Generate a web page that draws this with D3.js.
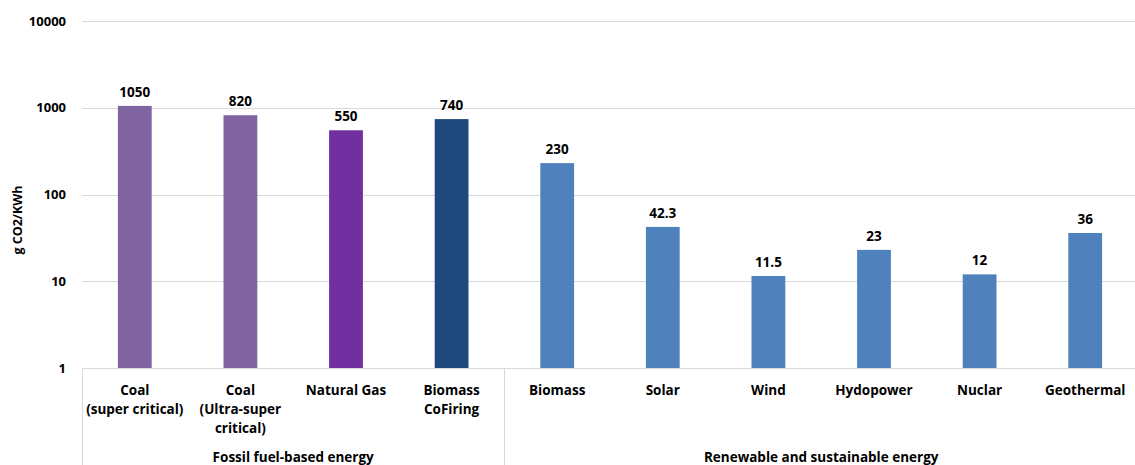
<!DOCTYPE html>
<html><head><meta charset="utf-8">
<script src="https://cdn.jsdelivr.net/npm/d3@7"></script>
<style>body{margin:0;background:#fff}svg{display:block}text{font-family:"Open Sans","Liberation Sans",sans-serif;font-weight:bold;fill:#000}</style>
</head><body><svg id="c" width="1135" height="465"></svg>
<script>
const categories = [["Coal","(super critical)"],["Coal","(Ultra-super","critical)"],["Natural Gas"],["Biomass","CoFiring"],["Biomass"],["Solar"],["Wind"],["Hydopower"],["Nuclar"],["Geothermal"]];
const values = [1050,820,550,740,230,42.3,11.5,23,12,36];
const valueLabels = ["1050","820","550","740","230","42.3","11.5","23","12","36"];
const colors = ["#8064A2","#8064A2","#7030A0","#1F497D","#4F81BD","#4F81BD","#4F81BD","#4F81BD","#4F81BD","#4F81BD"];
const groups = [{name:"Fossil fuel-based energy",start:0,end:4},{name:"Renewable and sustainable energy",start:4,end:10}];
const yTicks = [1,10,100,1000,10000];
const yTitle = "g CO2/KWh";

(function(){
const svg = d3.select("#c");
const mL = 82, mR = 1138, mT = 21, mB = 368;
const x = d3.scaleBand().domain(d3.range(categories.length)).range([mL,mR]).paddingInner(0.68).paddingOuter(0.34);
const y = d3.scaleLog().domain([1,10000]).range([mB,mT]);

svg.append("g").selectAll("line").data(yTicks).join("line")
  .attr("x1",mL).attr("x2",mR).attr("y1",d=>Math.round(y(d))+0.5).attr("y2",d=>Math.round(y(d))+0.5)
  .attr("stroke","#d9d9d9").attr("stroke-width",1);
svg.append("g").selectAll("text").data(yTicks).join("text")
  .attr("x",mL-16).attr("y",d=>y(d)).attr("dy","0.35em").attr("text-anchor","end")
  .attr("font-size",13).text(d=>d);
svg.append("text").attr("transform",`translate(22,220) rotate(-90)`)
  .attr("text-anchor","middle").attr("font-size",12.5).text(yTitle);

svg.append("g").selectAll("rect").data(values).join("rect")
  .attr("x",(d,i)=>x(i)).attr("width",x.bandwidth())
  .attr("y",d=>y(d)).attr("height",d=>mB-y(d)).attr("fill",(d,i)=>colors[i]);
svg.append("g").selectAll("text").data(values).join("text")
  .attr("x",(d,i)=>x(i)+x.bandwidth()/2).attr("y",d=>y(d)-9).attr("text-anchor","middle")
  .attr("font-size",13.5).text((d,i)=>valueLabels[i]);

const step = x.step();
const bounds = [0,4,10];
svg.append("g").selectAll("line").data(bounds).join("line")
  .attr("x1",d=>Math.round(mL+d*step)+0.5).attr("x2",d=>Math.round(mL+d*step)+0.5).attr("y1",mB).attr("y2",465)
  .attr("stroke","#d9d9d9");
categories.forEach((lines,i)=>{
  const cx = x(i)+x.bandwidth()/2;
  const t = svg.append("text").attr("x",cx).attr("y",395).attr("text-anchor","middle").attr("font-size",13.5);
  lines.forEach((l,k)=>t.append("tspan").attr("x",cx).attr("dy",k===0?0:19).text(l));
});
svg.append("g").selectAll("text").data(groups).join("text")
  .attr("x",d=>mL+(d.start+d.end)/2*step).attr("y",462).attr("text-anchor","middle")
  .attr("font-size",13.5).text(d=>d.name);
})();
</script></body></html>
